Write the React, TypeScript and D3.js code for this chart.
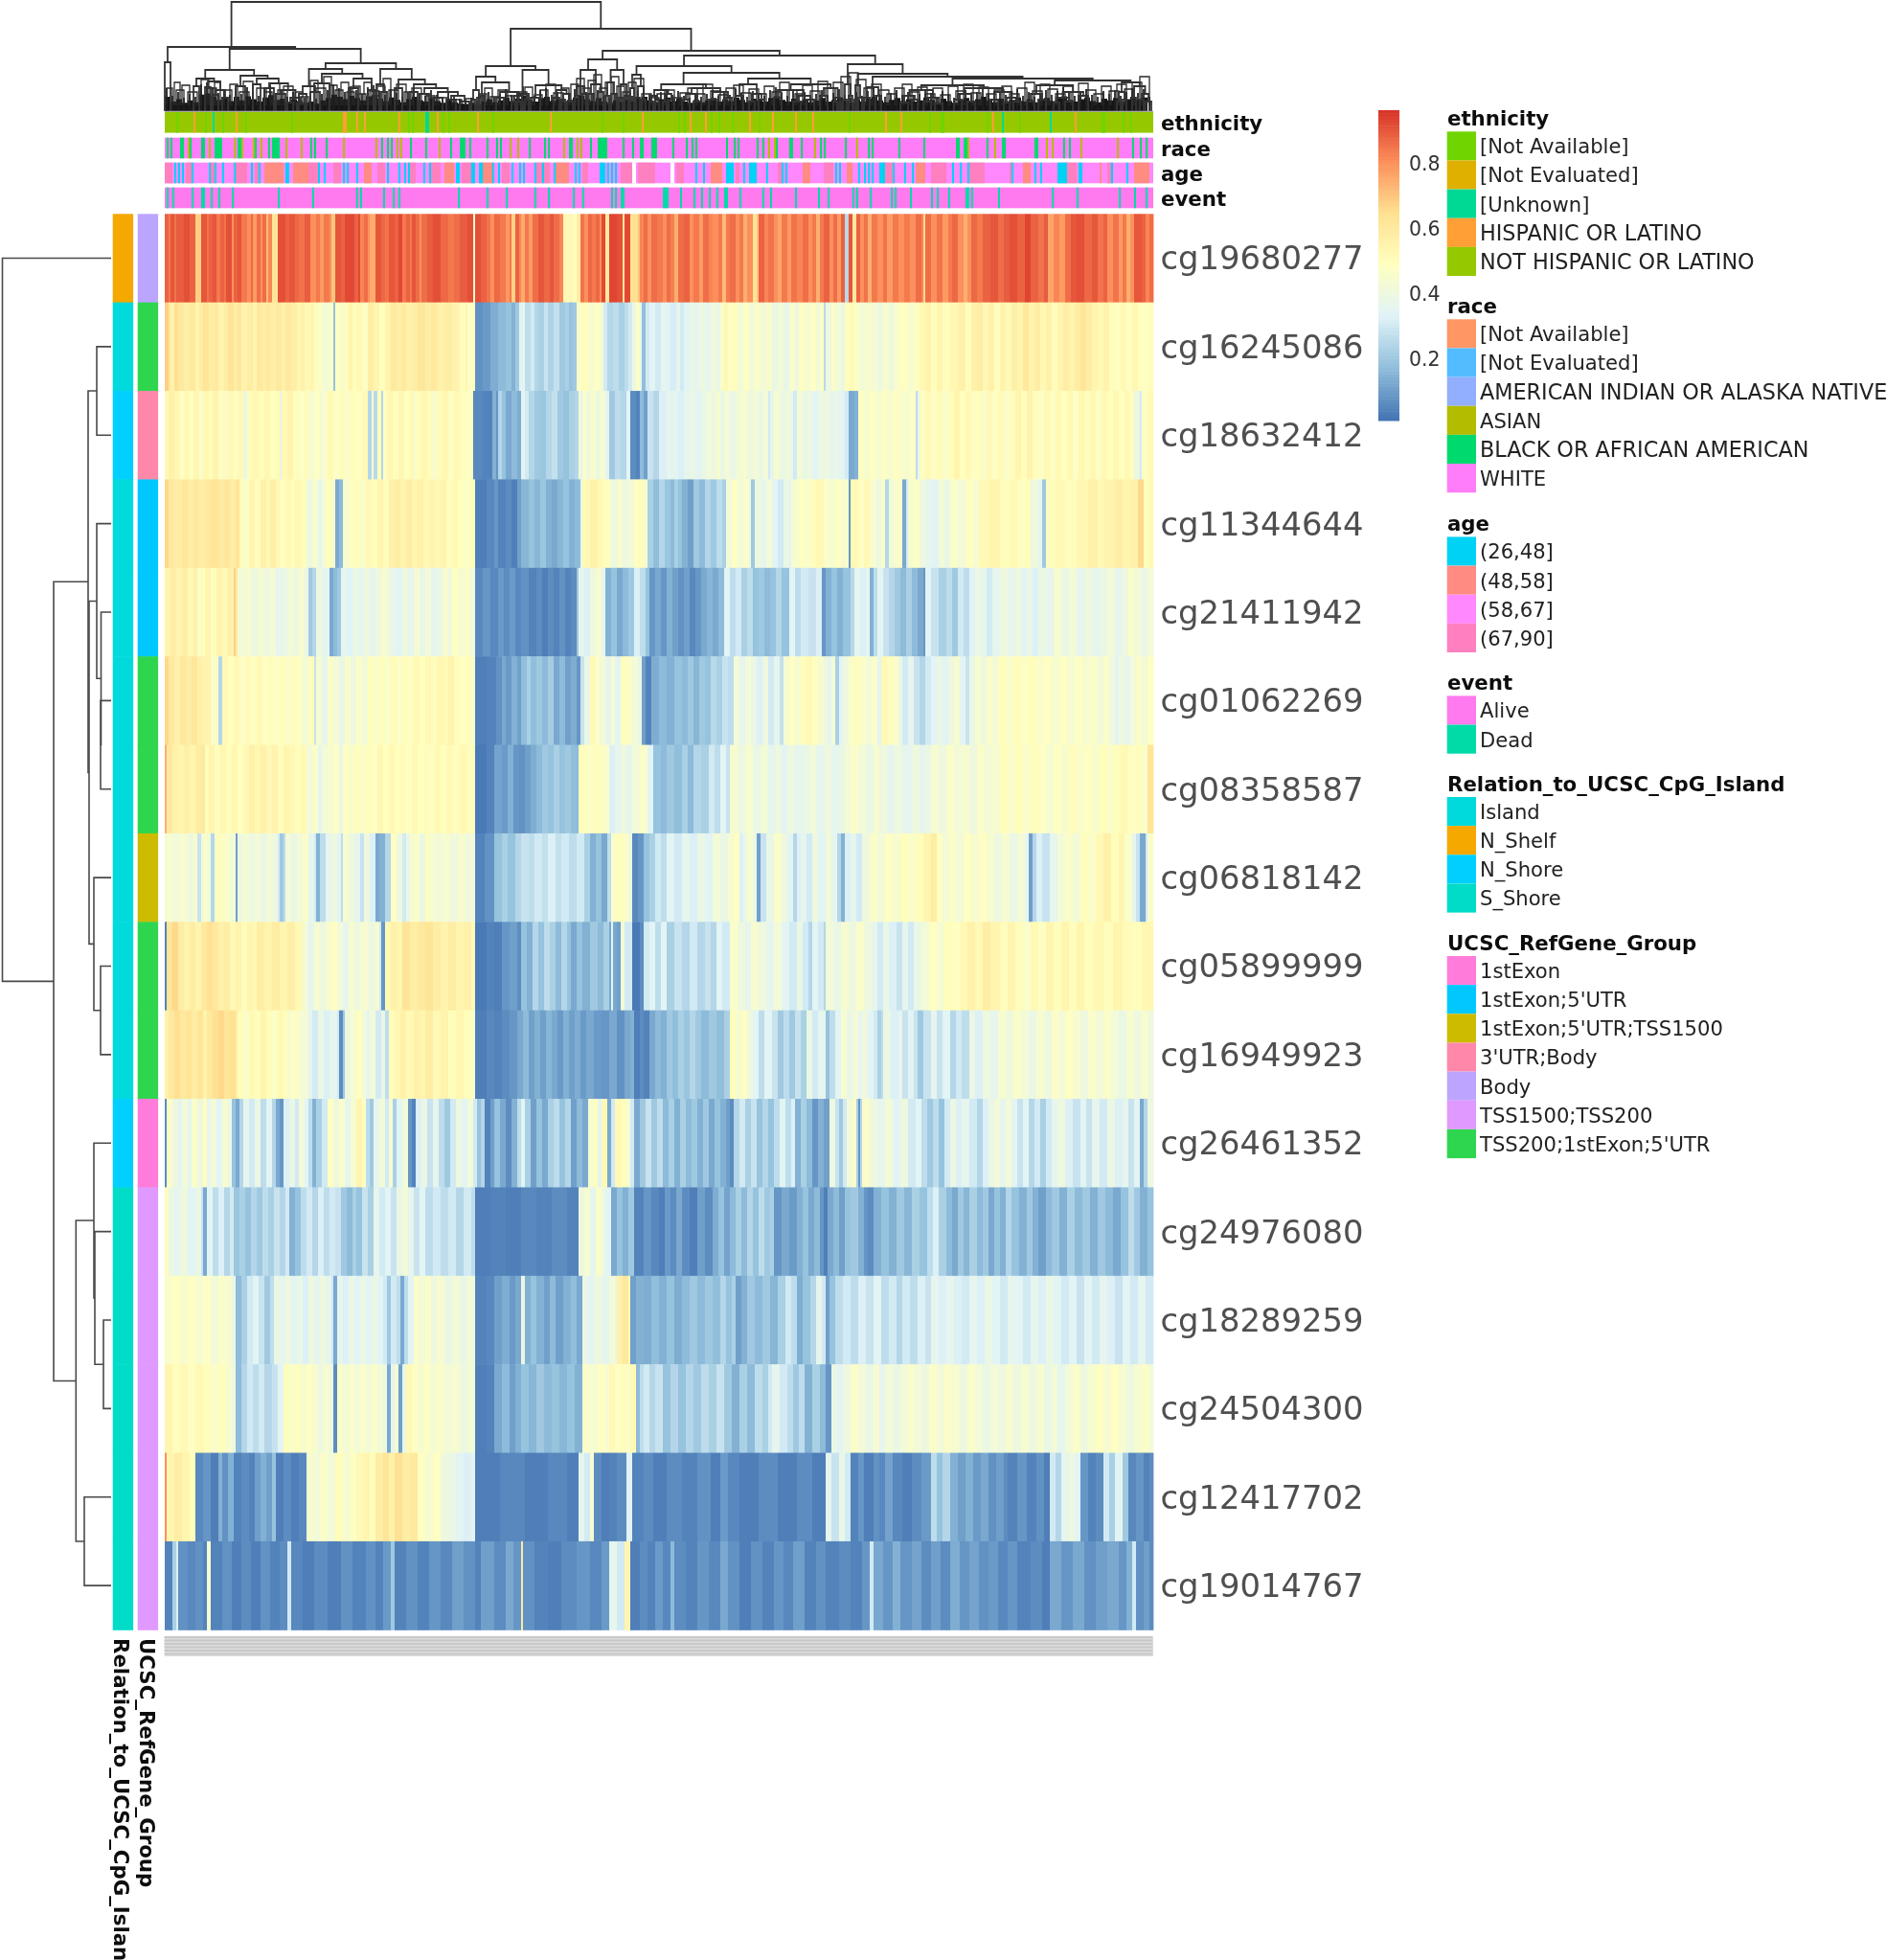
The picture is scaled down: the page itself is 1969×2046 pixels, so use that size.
import * as d3 from "d3";

// probe order is the clustered order on the heatmap
const probes = [
  "cg19680277", "cg16245086", "cg18632412", "cg11344644", "cg21411942", "cg01062269", "cg08358587", "cg06818142",
  "cg05899999", "cg16949923", "cg26461352", "cg24976080", "cg18289259", "cg24504300", "cg12417702", "cg19014767",
];

// beta values in percent, as [first sample rank of the run, value]
type Run = [number, number];
const cg19680277: Run[] = [[0,88],[2,84],[3,90],[5,85],[6,89],[10,91],[13,88],[16,68],[19,90],[22,85],[23,88],[25,90],[27,84],[29,88],[31,85],[32,91],[35,80],[36,88],[38,90],[40,84],[43,80],[45,87],[46,78],[48,86],[50,80],[51,86],[53,72],[54,82],[56,62],[59,91],[63,88],[65,90],[68,87],[70,85],[73,89],[76,80],[79,84],[81,78],[83,84],[86,80],[87,70],[89,90],[92,88],[94,92],[99,88],[101,92],[102,82],[104,86],[106,80],[107,75],[110,90],[113,87],[115,85],[117,90],[120,88],[122,92],[124,84],[126,88],[128,84],[129,90],[131,86],[133,80],[134,86],[137,89],[140,91],[144,87],[148,84],[151,86],[154,89],[158,91],[161,45],[162,91],[165,88],[168,85],[170,80],[172,87],[175,84],[178,78],[180,84],[181,68],[183,88],[185,82],[186,75],[188,84],[190,78],[192,86],[195,90],[198,87],[201,90],[203,86],[206,82],[208,52],[213,50],[215,58],[217,85],[219,80],[221,87],[223,84],[225,87],[227,80],[228,92],[230,60],[232,93],[236,91],[239,62],[240,92],[243,64],[247,70],[248,82],[250,86],[252,80],[254,86],[257,84],[260,80],[262,86],[264,83],[266,74],[268,86],[271,88],[274,80],[276,84],[279,78],[281,86],[284,82],[286,80],[289,84],[291,72],[293,84],[295,86],[298,80],[300,84],[302,74],[304,80],[307,62],[309,70],[310,88],[313,82],[315,85],[318,80],[320,76],[322,84],[325,78],[327,85],[330,82],[333,86],[336,80],[338,84],[340,74],[342,84],[344,88],[347,80],[349,86],[351,78],[353,88],[355,25],[357,90],[359,60],[361,88],[363,80],[365,85],[367,74],[369,84],[372,80],[375,85],[377,78],[380,84],[383,80],[386,84],[389,80],[392,86],[395,82],[396,66],[397,86],[400,80],[403,85],[406,78],[409,84],[411,87],[414,80],[417,74],[419,80],[421,87],[424,84],[427,88],[431,90],[435,86],[438,89],[441,91],[445,88],[449,93],[452,88],[456,85],[459,89],[461,76],[464,82],[467,78],[470,86],[473,90],[476,91],[480,87],[484,90],[487,85],[490,88],[492,80],[495,85],[498,78],[500,84],[502,74],[504,80],[506,90],[510,88],[512,82],[514,86]];
const cg16245086: Run[] = [[0,68],[2,60],[3,55],[5,64],[7,60],[10,57],[13,60],[16,54],[18,58],[20,62],[23,58],[26,60],[28,55],[31,58],[33,62],[36,58],[38,61],[40,55],[43,58],[46,54],[48,60],[51,57],[53,60],[55,57],[58,60],[61,56],[63,60],[66,57],[69,53],[71,56],[73,52],[76,54],[78,50],[80,46],[83,42],[86,46],[88,18],[89,48],[92,44],[94,50],[96,54],[98,50],[100,52],[103,47],[106,58],[109,54],[112,50],[115,54],[118,60],[121,57],[124,60],[126,56],[129,58],[132,61],[136,58],[139,60],[142,56],[146,58],[150,55],[154,50],[157,54],[158,47],[161,50],[162,7],[166,9],[170,13],[174,16],[178,18],[181,14],[183,20],[185,33],[187,38],[188,26],[191,30],[193,24],[195,22],[198,28],[200,23],[203,27],[206,20],[209,22],[211,18],[213,20],[215,47],[218,50],[221,44],[224,47],[227,43],[229,30],[231,24],[234,26],[237,22],[240,26],[242,30],[244,40],[246,46],[248,36],[249,17],[251,30],[253,34],[256,30],[259,36],[262,33],[264,31],[267,36],[269,30],[271,34],[274,38],[276,36],[279,40],[282,36],[285,41],[288,38],[290,46],[292,52],[294,48],[296,50],[299,42],[302,47],[305,42],[308,46],[311,42],[314,45],[317,38],[320,42],[323,37],[326,46],[329,40],[331,48],[334,44],[337,47],[340,42],[342,46],[344,25],[345,40],[348,46],[350,42],[353,38],[355,50],[358,52],[360,46],[363,42],[366,45],[369,42],[372,40],[375,45],[378,40],[381,46],[384,48],[388,44],[391,48],[394,52],[397,55],[400,50],[403,54],[406,50],[410,53],[414,56],[418,50],[421,56],[424,58],[427,53],[430,56],[433,50],[436,55],[439,52],[442,57],[445,54],[448,60],[451,55],[454,58],[457,52],[460,56],[463,50],[466,54],[469,58],[472,55],[475,58],[478,62],[481,58],[484,54],[487,52],[490,55],[493,50],[496,48],[499,52],[502,48],[505,53],[508,49],[511,47],[513,50]];
const cg18632412: Run[] = [[0,52],[2,56],[5,53],[8,48],[10,52],[13,49],[15,53],[18,46],[20,53],[23,50],[25,54],[28,47],[30,51],[32,44],[33,52],[36,48],[38,52],[41,38],[43,50],[46,53],[49,50],[52,53],[55,49],[58,51],[60,36],[61,52],[64,55],[67,50],[70,47],[73,51],[75,44],[78,47],[81,43],[83,46],[85,52],[88,47],[91,50],[94,46],[97,50],[100,48],[103,52],[106,24],[108,45],[109,25],[111,50],[113,24],[114,48],[116,53],[119,50],[122,53],[125,49],[128,52],[130,44],[131,50],[134,53],[137,50],[140,44],[142,51],[145,53],[148,48],[151,52],[154,50],[157,47],[160,50],[161,5],[166,4],[171,14],[173,8],[174,24],[176,18],[178,12],[181,16],[184,13],[186,35],[188,30],[190,24],[193,20],[196,19],[199,24],[202,27],[205,20],[208,18],[211,22],[214,24],[216,42],[217,36],[218,46],[220,40],[222,45],[225,38],[227,44],[230,34],[232,20],[235,26],[238,24],[241,34],[243,6],[246,4],[248,16],[250,10],[252,28],[255,24],[258,32],[262,36],[264,35],[268,32],[271,36],[274,38],[277,34],[280,38],[283,42],[285,40],[288,44],[290,38],[292,42],[295,38],[298,42],[301,44],[304,40],[307,42],[310,38],[312,42],[315,30],[316,36],[318,44],[321,38],[324,41],[327,36],[328,30],[330,42],[333,38],[336,40],[338,34],[341,38],[344,40],[347,36],[350,38],[352,34],[355,30],[357,12],[360,14],[362,48],[365,45],[368,48],[371,44],[374,47],[377,45],[380,48],[383,46],[386,44],[389,47],[392,26],[393,36],[394,48],[397,52],[400,48],[403,51],[406,46],[409,50],[412,54],[415,49],[418,52],[421,48],[424,50],[427,44],[429,52],[432,48],[435,51],[438,46],[441,50],[444,54],[447,50],[450,55],[453,50],[456,47],[459,52],[462,48],[465,52],[468,49],[471,52],[474,47],[477,53],[480,50],[483,52],[486,48],[489,52],[492,49],[495,53],[498,49],[501,52],[504,50],[506,38],[509,30],[510,48],[513,52]];
const cg11344644: Run[] = [[0,66],[2,60],[5,58],[9,61],[12,58],[15,60],[18,57],[21,60],[24,62],[28,59],[31,61],[34,58],[37,62],[39,50],[41,46],[44,54],[47,50],[50,56],[53,52],[55,57],[58,53],[60,48],[63,52],[66,49],[68,53],[71,50],[74,40],[77,44],[80,36],[82,42],[84,50],[87,45],[89,12],[91,16],[93,44],[96,48],[99,50],[102,46],[105,52],[108,50],[111,54],[114,51],[117,56],[120,58],[123,55],[126,58],[129,54],[132,56],[135,52],[138,55],[141,52],[144,54],[147,50],[150,52],[153,49],[156,47],[159,50],[162,3],[168,5],[172,8],[174,4],[178,6],[181,3],[184,10],[186,15],[190,18],[193,15],[196,19],[199,14],[202,12],[205,15],[208,18],[211,14],[214,16],[217,38],[218,52],[222,56],[226,52],[229,50],[232,46],[233,40],[236,44],[239,40],[242,42],[245,47],[247,50],[250,44],[252,22],[255,17],[258,24],[261,19],[264,16],[266,22],[268,18],[270,14],[273,10],[276,20],[279,16],[282,24],[285,20],[288,26],[291,22],[293,42],[296,48],[299,42],[302,46],[305,38],[306,20],[308,40],[311,36],[314,42],[317,34],[320,30],[323,38],[326,34],[327,44],[331,48],[334,46],[337,50],[340,52],[344,46],[347,44],[350,48],[353,44],[356,47],[357,8],[358,52],[362,48],[365,52],[368,45],[371,40],[374,46],[376,24],[378,42],[381,46],[385,12],[387,30],[388,44],[391,47],[394,40],[397,36],[400,34],[404,42],[407,38],[410,46],[414,42],[418,48],[422,44],[425,52],[430,54],[436,50],[441,52],[445,48],[449,50],[452,40],[456,36],[458,20],[460,50],[465,52],[470,50],[476,53],[482,56],[487,52],[490,55],[496,58],[500,54],[504,56],[508,66],[511,50],[514,52]];
const cg21411942: Run[] = [[0,54],[3,58],[6,54],[9,57],[12,52],[15,56],[17,46],[19,50],[21,54],[24,50],[27,55],[30,52],[33,56],[36,68],[37,60],[38,42],[42,44],[45,40],[49,43],[52,40],[55,42],[58,36],[61,38],[64,42],[67,40],[70,44],[73,38],[75,20],[77,24],[79,40],[82,36],[85,34],[86,12],[88,16],[90,20],[92,36],[95,33],[98,38],[101,36],[104,40],[107,36],[110,40],[113,44],[116,40],[118,36],[121,34],[124,40],[127,36],[130,43],[133,38],[136,42],[139,36],[142,38],[145,44],[148,40],[150,48],[153,44],[156,46],[159,42],[162,5],[166,8],[170,5],[174,9],[177,6],[180,9],[183,5],[186,7],[190,4],[194,6],[197,3],[200,6],[203,4],[206,7],[209,4],[212,6],[215,20],[216,36],[219,32],[222,40],[225,44],[228,36],[230,14],[233,18],[236,12],[239,16],[242,20],[245,32],[248,26],[251,18],[253,8],[256,12],[259,8],[262,14],[265,10],[268,7],[271,10],[274,5],[277,8],[280,12],[283,15],[286,12],[289,16],[292,34],[295,26],[298,30],[301,22],[304,26],[307,18],[310,20],[313,16],[316,18],[319,24],[322,18],[326,34],[329,26],[332,30],[336,28],[340,32],[343,8],[345,14],[348,18],[351,14],[354,18],[358,25],[360,36],[363,32],[366,36],[368,14],[370,26],[372,35],[375,28],[378,24],[381,20],[384,16],[387,22],[390,16],[393,12],[396,8],[397,34],[400,28],[404,22],[408,26],[411,20],[414,30],[417,26],[420,33],[423,38],[426,36],[429,30],[432,36],[436,40],[440,36],[444,40],[447,34],[450,38],[453,32],[456,38],[460,36],[464,44],[468,38],[472,42],[476,36],[480,40],[484,36],[488,38],[492,42],[496,36],[500,40],[503,46],[506,42],[510,38],[513,42]];
const cg01062269: Run[] = [[0,66],[2,60],[5,56],[8,60],[11,58],[14,61],[17,56],[20,55],[24,46],[27,50],[28,24],[30,52],[33,49],[36,52],[39,47],[42,51],[45,48],[48,52],[51,48],[54,50],[57,47],[60,50],[63,46],[66,50],[69,47],[72,42],[75,50],[78,28],[79,44],[82,36],[85,46],[88,42],[91,38],[94,45],[97,40],[100,46],[103,42],[106,50],[109,46],[112,50],[115,46],[118,51],[121,47],[124,50],[127,48],[130,52],[133,49],[136,52],[139,50],[142,53],[145,52],[148,55],[151,50],[154,48],[157,50],[160,45],[162,3],[168,4],[173,7],[176,12],[178,9],[181,14],[184,10],[186,17],[189,22],[191,17],[194,20],[197,16],[200,21],[203,12],[206,16],[209,10],[212,13],[215,8],[217,28],[219,38],[222,52],[225,46],[227,42],[230,36],[233,44],[235,34],[238,50],[241,46],[244,42],[247,38],[249,10],[251,4],[254,13],[258,16],[262,14],[266,18],[270,16],[273,20],[276,15],[279,20],[282,18],[285,25],[288,22],[291,28],[294,26],[297,42],[300,36],[303,42],[306,38],[309,32],[312,40],[315,30],[318,36],[321,27],[323,44],[326,48],[329,44],[332,50],[335,52],[338,48],[341,44],[344,40],[346,36],[348,42],[350,22],[352,34],[354,40],[357,46],[360,50],[363,46],[366,42],[369,46],[372,34],[374,52],[377,50],[380,46],[383,38],[385,30],[388,36],[391,28],[394,24],[397,30],[400,34],[403,38],[406,34],[409,40],[412,44],[415,34],[418,28],[420,38],[423,44],[426,40],[429,46],[432,42],[435,50],[439,46],[443,50],[447,47],[451,50],[455,46],[459,48],[463,44],[467,48],[471,44],[475,47],[479,44],[483,46],[487,42],[490,46],[493,40],[496,34],[498,40],[501,36],[504,42],[507,46],[510,42],[513,48]];
const cg08358587: Run[] = [[0,74],[1,60],[4,56],[7,54],[10,57],[13,54],[16,58],[19,60],[21,50],[23,54],[26,50],[29,53],[32,50],[35,53],[38,49],[41,52],[44,56],[47,53],[50,56],[53,52],[56,55],[59,50],[62,54],[65,52],[68,50],[71,52],[74,42],[77,46],[80,36],[82,42],[85,44],[88,47],[91,38],[93,48],[96,45],[99,50],[102,46],[105,50],[108,48],[111,53],[114,49],[117,52],[120,49],[123,51],[126,48],[129,52],[132,49],[135,50],[138,48],[141,52],[144,49],[147,52],[150,50],[154,52],[158,50],[162,2],[168,4],[172,11],[176,9],[179,14],[182,8],[185,7],[188,10],[191,13],[194,16],[197,20],[200,18],[203,22],[206,18],[209,20],[212,17],[215,16],[216,50],[220,47],[224,50],[228,46],[232,32],[235,36],[238,40],[241,36],[244,42],[248,46],[252,34],[255,18],[259,16],[262,20],[266,17],[270,22],[273,16],[276,24],[280,22],[284,30],[287,26],[290,34],[293,28],[295,44],[299,40],[303,44],[307,38],[311,42],[315,36],[319,40],[322,34],[325,40],[329,36],[333,38],[337,42],[340,36],[344,40],[348,36],[352,38],[355,42],[358,46],[362,42],[366,38],[370,44],[373,40],[377,36],[381,40],[385,36],[390,40],[394,36],[397,38],[400,44],[404,40],[408,46],[412,42],[416,44],[420,40],[424,46],[428,42],[432,44],[436,50],[440,46],[444,50],[448,46],[452,50],[456,47],[460,44],[464,48],[468,45],[472,50],[476,46],[480,48],[484,45],[488,50],[492,46],[495,50],[499,52],[503,48],[507,50],[510,46],[513,62]];
const cg06818142: Run[] = [[0,44],[4,42],[8,44],[12,40],[15,44],[17,28],[19,40],[20,46],[22,42],[24,24],[26,44],[27,50],[30,46],[34,42],[37,10],[38,40],[41,43],[44,39],[47,42],[50,38],[53,42],[56,40],[59,30],[60,20],[62,26],[63,42],[66,38],[69,42],[72,46],[75,36],[78,30],[79,14],[81,26],[84,36],[87,40],[90,34],[92,26],[93,44],[96,40],[99,36],[102,28],[104,40],[107,32],[110,12],[112,14],[115,24],[118,48],[121,40],[124,30],[126,38],[128,44],[130,46],[133,38],[136,50],[138,44],[141,42],[145,44],[149,41],[153,44],[157,41],[160,42],[162,4],[167,7],[172,18],[176,22],[179,18],[183,24],[186,28],[190,26],[193,30],[197,27],[200,32],[204,27],[207,30],[211,26],[215,30],[219,22],[222,14],[225,18],[228,12],[231,26],[233,46],[236,50],[239,46],[242,40],[244,5],[247,8],[250,18],[253,22],[256,30],[259,26],[262,34],[266,30],[270,36],[274,32],[278,38],[282,34],[286,42],[290,38],[294,44],[297,48],[300,32],[302,38],[304,44],[307,38],[309,10],[311,28],[314,38],[318,46],[322,40],[325,34],[328,24],[330,32],[332,36],[335,30],[338,40],[341,34],[345,42],[348,36],[351,24],[353,14],[355,32],[358,36],[361,30],[364,40],[368,46],[372,42],[376,48],[380,44],[384,50],[388,46],[392,50],[396,54],[400,58],[403,48],[406,42],[409,46],[413,42],[417,48],[421,44],[425,48],[429,44],[433,40],[437,44],[441,38],[445,42],[449,36],[451,10],[453,24],[455,32],[458,28],[462,36],[466,42],[470,46],[474,42],[478,50],[482,46],[486,52],[490,56],[494,50],[498,54],[501,46],[505,36],[507,28],[509,12],[512,30],[513,46]];
const cg05899999: Run[] = [[0,4],[1,62],[4,66],[7,58],[10,55],[13,58],[16,54],[19,60],[22,64],[25,60],[28,56],[31,58],[34,52],[37,55],[40,50],[43,54],[46,52],[48,58],[52,55],[56,58],[60,54],[64,57],[68,52],[72,42],[75,36],[78,44],[81,40],[84,44],[87,48],[90,42],[93,36],[96,44],[99,40],[102,44],[106,40],[110,44],[112,30],[113,8],[115,52],[118,56],[121,54],[124,62],[128,58],[132,60],[136,62],[140,58],[144,55],[148,58],[152,54],[156,56],[160,52],[162,2],[168,4],[172,3],[176,8],[180,10],[184,6],[186,18],[189,14],[192,24],[195,18],[198,26],[201,22],[204,16],[207,24],[210,18],[212,12],[215,18],[218,14],[222,20],[226,16],[229,22],[232,12],[233,34],[234,12],[236,10],[238,42],[240,30],[244,2],[248,6],[250,30],[253,34],[256,26],[259,34],[262,22],[266,28],[270,24],[274,30],[278,24],[282,28],[285,24],[288,34],[291,30],[295,46],[299,40],[303,36],[306,44],[310,40],[314,36],[318,42],[322,34],[326,30],[330,38],[333,30],[336,24],[338,34],[341,30],[344,24],[345,42],[349,38],[353,44],[357,40],[361,46],[365,40],[369,36],[372,30],[375,38],[378,32],[382,28],[385,36],[388,30],[391,38],[395,42],[399,48],[403,44],[407,50],[411,48],[415,52],[419,56],[423,52],[427,58],[431,54],[436,50],[440,54],[444,50],[448,46],[452,52],[456,48],[460,54],[464,50],[468,54],[472,50],[476,54],[480,50],[485,53],[490,50],[495,54],[500,51],[505,50],[510,53]];
const cg16949923: Run[] = [[0,56],[2,60],[5,64],[8,60],[11,62],[14,58],[17,62],[20,54],[22,60],[25,64],[28,66],[31,62],[34,64],[37,58],[38,50],[41,46],[44,52],[47,50],[50,54],[53,50],[56,47],[59,52],[62,50],[64,44],[66,48],[69,44],[72,42],[75,36],[77,30],[80,38],[83,32],[86,36],[90,30],[91,6],[93,20],[94,40],[97,44],[100,48],[103,42],[105,36],[107,42],[110,30],[113,38],[115,26],[117,50],[120,53],[123,56],[126,52],[130,56],[133,54],[136,58],[140,52],[144,55],[148,50],[152,53],[156,50],[160,46],[162,3],[168,5],[172,4],[176,6],[180,8],[184,12],[187,16],[190,10],[193,14],[196,10],[199,15],[202,12],[205,9],[208,14],[211,10],[214,13],[217,9],[220,12],[224,9],[228,8],[232,12],[236,7],[240,12],[243,14],[245,3],[248,6],[250,4],[253,12],[256,16],[259,14],[262,20],[265,17],[268,22],[271,19],[274,24],[277,20],[280,16],[284,20],[288,17],[292,22],[295,50],[298,44],[301,48],[304,40],[307,34],[310,26],[313,34],[317,28],[320,20],[323,26],[326,20],[329,28],[332,22],[335,38],[338,30],[341,36],[345,18],[347,26],[350,34],[353,44],[356,38],[359,42],[362,36],[364,40],[367,34],[370,30],[372,22],[374,26],[375,38],[379,32],[383,36],[385,28],[388,34],[391,28],[393,20],[396,28],[400,36],[403,28],[406,34],[410,24],[413,30],[416,26],[420,38],[423,32],[427,40],[431,36],[435,44],[439,40],[443,46],[447,42],[451,38],[455,44],[459,40],[463,46],[467,42],[470,48],[474,44],[478,40],[482,46],[486,42],[490,46],[494,42],[498,38],[502,44],[506,40],[510,45],[513,40]];
const cg26461352: Run[] = [[0,6],[1,46],[4,40],[7,34],[9,42],[12,36],[14,46],[17,40],[20,48],[22,36],[24,42],[27,34],[30,44],[33,38],[35,18],[37,12],[39,24],[41,36],[44,30],[47,38],[50,26],[53,34],[56,24],[58,12],[60,8],[62,32],[65,38],[68,30],[70,42],[73,34],[75,26],[77,14],[79,22],[82,30],[85,48],[88,40],[91,46],[94,36],[97,44],[100,54],[103,48],[105,26],[107,20],[109,36],[112,42],[115,30],[117,44],[119,22],[121,34],[124,42],[127,8],[129,4],[131,32],[134,38],[137,28],[140,36],[143,26],[146,20],[149,30],[152,40],[155,34],[158,42],[161,30],[163,18],[165,24],[167,4],[170,10],[172,18],[175,12],[178,6],[181,14],[184,26],[186,34],[188,22],[191,10],[194,18],[197,12],[200,22],[203,26],[206,18],[209,24],[212,10],[215,16],[218,12],[221,44],[224,50],[226,34],[228,52],[231,12],[233,30],[235,52],[238,50],[241,44],[243,30],[245,12],[248,20],[251,28],[254,20],[257,26],[260,16],[263,22],[266,14],[269,22],[272,16],[275,20],[278,14],[281,20],[284,12],[287,18],[290,14],[293,10],[295,6],[297,24],[300,30],[303,22],[306,28],[309,18],[312,24],[315,18],[318,26],[321,34],[324,26],[327,32],[329,14],[332,22],[335,16],[338,8],[341,14],[344,10],[347,40],[350,28],[352,20],[354,30],[356,42],[359,46],[361,22],[362,8],[363,24],[364,46],[368,40],[372,36],[376,42],[380,34],[384,40],[388,30],[392,34],[395,26],[398,20],[401,26],[404,18],[407,30],[410,38],[413,32],[416,36],[420,30],[424,24],[427,32],[430,38],[433,42],[436,36],[439,42],[442,34],[445,28],[448,34],[451,24],[454,30],[457,22],[460,30],[463,36],[466,40],[470,32],[474,28],[478,34],[481,28],[484,36],[488,30],[492,38],[496,32],[500,36],[503,28],[506,34],[509,12],[511,24],[513,40]];
const cg24976080: Run[] = [[0,50],[2,38],[5,36],[8,40],[12,34],[16,38],[19,28],[20,12],[22,34],[25,26],[28,32],[31,24],[34,30],[36,19],[39,22],[42,18],[45,24],[48,20],[51,26],[54,22],[57,28],[60,24],[63,30],[65,14],[68,18],[71,26],[74,30],[77,24],[80,32],[83,26],[86,30],[89,28],[92,20],[95,16],[98,22],[100,18],[103,28],[106,22],[109,36],[112,30],[115,34],[118,28],[121,38],[124,42],[127,36],[130,28],[133,34],[136,26],[140,30],[144,26],[148,30],[152,24],[156,30],[160,26],[162,3],[170,4],[178,3],[186,5],[194,4],[202,6],[210,4],[216,40],[219,44],[222,36],[225,46],[228,40],[230,34],[233,12],[236,18],[239,14],[242,20],[245,4],[250,8],[254,5],[258,3],[261,9],[264,6],[267,12],[270,6],[274,3],[278,10],[282,6],[286,13],[289,18],[292,11],[295,16],[298,22],[301,16],[304,24],[307,18],[310,26],[313,20],[316,22],[318,8],[322,12],[326,9],[330,14],[333,18],[336,12],[339,16],[342,8],[344,3],[346,12],[349,16],[352,10],[355,18],[358,20],[362,14],[365,8],[367,6],[370,14],[374,18],[378,14],[382,20],[386,15],[390,22],[394,18],[398,26],[401,32],[404,22],[408,16],[411,12],[414,20],[417,15],[420,22],[424,16],[427,20],[430,12],[433,18],[436,14],[439,24],[442,18],[446,14],[450,20],[453,14],[456,10],[460,16],[463,20],[467,14],[471,22],[475,16],[479,20],[483,14],[487,20],[491,16],[495,12],[499,18],[503,26],[506,20],[509,14],[513,18]];
const cg18289259: Run[] = [[0,46],[4,48],[8,45],[12,48],[16,44],[20,47],[24,42],[28,46],[32,44],[35,38],[37,16],[40,22],[43,30],[46,34],[49,28],[52,20],[55,26],[57,38],[60,36],[63,40],[66,34],[69,38],[72,32],[75,40],[78,36],[81,40],[84,36],[87,30],[88,12],[90,36],[93,32],[96,38],[99,34],[102,38],[105,34],[108,38],[111,34],[114,30],[116,20],[118,30],[121,26],[123,12],[125,26],[127,34],[130,46],[133,42],[136,46],[139,40],[142,44],[146,38],[150,42],[154,38],[158,42],[162,4],[168,5],[172,10],[176,13],[180,9],[183,12],[186,38],[188,14],[191,18],[194,14],[198,10],[201,16],[204,10],[208,14],[212,17],[215,12],[218,38],[221,34],[224,40],[228,36],[232,42],[235,38],[236,56],[239,60],[242,52],[243,10],[246,14],[250,13],[254,17],[258,14],[262,18],[266,13],[270,16],[274,20],[278,16],[282,20],[286,17],[290,24],[293,18],[296,22],[298,10],[301,14],[304,20],[308,16],[312,20],[316,15],[320,22],[324,30],[327,26],[330,13],[333,18],[337,24],[340,36],[343,30],[345,10],[347,18],[350,26],[354,30],[358,26],[362,32],[366,28],[370,34],[374,26],[378,30],[382,24],[385,30],[389,26],[393,32],[397,28],[400,36],[404,32],[408,36],[412,32],[416,30],[420,36],[424,32],[428,38],[432,34],[436,30],[440,36],[444,34],[448,30],[452,36],[456,32],[460,38],[464,34],[468,30],[472,34],[476,28],[480,34],[484,30],[488,36],[492,32],[496,28],[500,34],[504,30],[508,36],[512,30]];
const cg24504300: Run[] = [[0,54],[4,50],[8,52],[12,48],[16,52],[20,50],[24,46],[28,50],[32,44],[35,40],[37,16],[40,24],[43,30],[46,26],[49,30],[52,24],[56,28],[59,34],[62,50],[65,46],[68,50],[71,44],[74,48],[77,44],[80,40],[83,44],[86,40],[88,6],[90,46],[93,42],[96,46],[99,42],[102,46],[105,42],[108,46],[111,42],[114,40],[116,12],[118,36],[120,44],[122,10],[124,38],[126,52],[129,48],[132,44],[135,48],[138,44],[142,46],[146,42],[150,44],[154,40],[158,42],[162,3],[168,4],[172,12],[176,16],[180,10],[183,14],[186,18],[190,15],[194,20],[198,16],[202,18],[206,15],[210,18],[214,14],[218,46],[222,44],[226,48],[230,44],[232,52],[235,48],[238,50],[241,46],[243,52],[246,16],[248,26],[250,30],[253,24],[256,28],[260,18],[264,24],[268,18],[272,24],[276,20],[280,26],[284,22],[288,28],[292,20],[296,14],[300,22],[304,16],[308,26],[312,22],[315,30],[317,36],[321,30],[325,26],[328,20],[331,26],[334,14],[338,22],[342,16],[345,8],[348,38],[351,34],[354,40],[358,46],[362,42],[366,38],[370,44],[373,36],[376,42],[380,38],[384,42],[388,46],[391,42],[395,40],[399,46],[403,42],[407,46],[411,44],[415,40],[419,46],[423,42],[427,38],[431,42],[435,40],[439,44],[443,40],[447,44],[451,40],[455,44],[459,38],[463,42],[466,36],[470,42],[474,46],[478,40],[482,44],[486,48],[490,44],[494,48],[498,44],[502,40],[506,44],[510,46],[514,42]];
const cg12417702: Run[] = [[0,80],[1,54],[5,58],[9,54],[13,50],[16,5],[20,8],[24,3],[28,14],[30,7],[33,14],[36,4],[40,6],[44,4],[47,10],[50,14],[53,10],[56,18],[58,3],[62,6],[66,3],[70,5],[74,44],[78,42],[81,46],[85,42],[89,50],[93,44],[97,48],[100,52],[104,54],[107,50],[110,58],[114,62],[117,56],[120,64],[124,58],[128,60],[132,48],[136,44],[140,48],[144,40],[148,38],[152,34],[156,32],[160,34],[162,3],[175,5],[188,3],[200,5],[210,3],[216,36],[219,30],[222,44],[224,6],[228,3],[232,4],[236,6],[241,34],[244,4],[250,6],[255,3],[262,6],[270,4],[278,7],[285,3],[290,9],[294,5],[300,3],[310,6],[320,3],[330,6],[338,3],[345,36],[348,28],[352,38],[355,30],[358,4],[362,8],[365,3],[370,7],[373,5],[376,11],[380,5],[385,3],[390,6],[395,9],[400,26],[403,18],[406,24],[410,14],[414,10],[418,14],[422,9],[426,12],[430,7],[434,10],[438,6],[440,4],[445,8],[450,4],[455,7],[459,3],[462,30],[465,24],[468,36],[472,40],[475,34],[478,8],[482,4],[486,6],[490,30],[493,22],[496,34],[500,20],[503,5],[507,8],[511,4],[514,6]];
const cg19014767: Run[] = [[0,4],[4,22],[6,32],[7,7],[12,5],[16,7],[20,4],[22,44],[24,4],[30,7],[35,3],[40,6],[45,3],[50,7],[55,4],[60,6],[64,30],[66,5],[72,3],[78,6],[85,3],[92,7],[98,4],[105,7],[110,4],[114,9],[118,20],[120,4],[126,7],[132,4],[138,8],[144,5],[150,10],[156,7],[162,4],[165,10],[172,6],[178,12],[182,8],[186,60],[187,7],[193,4],[200,3],[207,6],[215,8],[222,5],[228,9],[232,36],[236,30],[240,54],[243,3],[248,6],[252,4],[256,9],[260,5],[264,16],[266,6],[272,4],[278,8],[284,5],[290,12],[294,7],[300,3],[306,7],[312,4],[318,8],[323,5],[328,10],[334,4],[340,7],[345,4],[352,6],[358,4],[364,8],[368,30],[370,12],[375,8],[380,14],[384,8],[390,11],[395,6],[400,10],[405,6],[410,13],[415,8],[420,11],[425,7],[430,9],[435,5],[440,8],[445,4],[452,6],[458,3],[462,12],[468,8],[474,12],[480,7],[486,10],[492,12],[498,8],[502,14],[505,30],[507,7],[511,10],[514,6]];
const probeRuns = [cg19680277, cg16245086, cg18632412, cg11344644, cg21411942, cg01062269, cg08358587, cg06818142, cg05899999, cg16949923, cg26461352, cg24976080, cg18289259, cg24504300, cg12417702, cg19014767];

// sample annotation: [sample rank, category], everything else takes the majority level
const ethnicityLevels = ["[Not Available]", "[Not Evaluated]", "[Unknown]", "HISPANIC OR LATINO", "NOT HISPANIC OR LATINO"];
const ethnicityColors = ["#6fd400", "#e0b000", "#00d994", "#ff9f35", "#96c800"];
const ethnicityMarks: Run[] = [[6,0],[15,3],[21,0],[25,2],[30,0],[37,3],[42,0],[66,0],[93,3],[94,3],[100,3],[104,3],[122,3],[127,0],[129,0],[136,2],[137,2],[142,3],[145,0],[148,0],[163,3],[171,0],[201,3],[228,0],[239,0],[249,3],[268,0],[271,0],[274,3],[282,3],[285,0],[289,0],[296,0],[305,3],[310,0],[317,3],[329,3],[338,3],[357,0],[376,3],[384,3],[399,0],[405,0],[406,0],[429,0],[432,3],[437,2],[446,0],[462,2],[475,3],[489,0],[490,0],[500,0],[504,0]];

const raceLevels = ["[Not Available]", "[Not Evaluated]", "AMERICAN INDIAN OR ALASKA NATIVE", "ASIAN", "BLACK OR AFRICAN AMERICAN", "WHITE"];
const raceColors = ["#ff9664", "#52bcff", "#92aeff", "#b4bc00", "#00d96e", "#ff7df8"];
const raceMarks: [number, number, number][] = [[1,1,4],[3,1,4],[8,2,4],[12,1,3],[13,1,4],[19,2,4],[23,1,3],[26,4,4],[36,1,3],[38,1,4],[39,1,4],[40,1,3],[46,1,3],[47,1,4],[50,1,3],[54,1,4],[56,4,4],[63,1,3],[71,1,3],[76,1,4],[78,1,4],[84,1,4],[93,1,3],[110,1,3],[113,1,4],[116,1,4],[118,1,4],[121,1,3],[123,1,3],[128,1,4],[136,1,4],[143,1,3],[149,1,4],[154,3,4],[159,1,4],[168,1,4],[173,1,4],[175,1,4],[180,1,3],[184,1,3],[190,1,4],[198,1,4],[200,1,4],[208,1,3],[211,2,4],[215,1,3],[217,1,3],[222,1,4],[226,5,4],[239,1,4],[244,1,4],[248,2,4],[254,3,4],[265,1,4],[272,1,4],[275,1,4],[277,1,4],[293,1,4],[297,1,4],[299,1,4],[309,1,4],[312,1,4],[315,1,3],[318,1,3],[319,1,4],[326,2,4],[332,1,4],[339,1,3],[342,1,4],[344,1,4],[355,1,4],[361,1,3],[367,1,4],[369,1,4],[383,1,4],[396,1,4],[413,2,4],[417,3,4],[419,1,3],[429,1,4],[433,1,3],[437,2,4],[454,1,4],[455,1,4],[460,1,3],[463,1,3],[469,1,4],[472,1,4],[478,1,3],[497,1,3],[505,1,4],[509,1,4],[512,1,4]];

const ageLevels = ["(26,48]", "(48,58]", "(58,67]", "(67,90]"];
const ageColors = ["#00d2f5", "#ff8c82", "#ff88ff", "#ff80c0"];
// [first rank, number of samples]
const ageYoung: Run[] = [[5,1],[7,1],[9,1],[14,1],[23,1],[26,1],[30,1],[36,1],[45,1],[49,1],[63,2],[80,1],[83,1],[93,1],[95,1],[100,1],[116,1],[122,1],[125,1],[127,1],[135,1],[138,1],[152,1],[153,1],[160,2],[164,2],[171,1],[174,1],[181,1],[185,1],[187,1],[193,1],[197,1],[203,1],[214,1],[216,1],[227,3],[231,1],[233,1],[235,1],[277,1],[281,1],[293,4],[302,1],[305,4],[314,1],[322,1],[324,1],[350,1],[352,1],[362,1],[365,1],[367,1],[369,1],[373,3],[380,1],[386,1],[390,1],[411,1],[415,1],[419,1],[442,1],[454,1],[457,1],[466,5],[477,2],[494,1],[502,1]];
const ageMiddle: Run[] = [[52,10],[67,8],[104,4],[146,5],[166,5],[204,7],[285,6],[333,4],[356,3],[392,5],[448,4],[488,1],[506,8]];
const ageOld: Run[] = [[0,4],[11,3],[24,2],[37,6],[47,2],[75,5],[88,4],[111,4],[128,3],[139,5],[155,5],[176,4],[194,3],[198,3],[218,3],[238,6],[247,9],[267,4],[298,2],[320,2],[344,5],[375,5],[400,8],[420,8],[441,1],[470,6],[492,2]];
const ageMissing: Run[] = [[244,2],[264,2]];

const eventLevels = ["Alive", "Dead"];
const eventColors = ["#ff7aee", "#00dba8"];
const eventDead: Run[] = [[1,1],[4,1],[14,1],[19,2],[24,1],[28,1],[35,1],[59,1],[77,1],[100,1],[102,1],[114,1],[119,1],[122,1],[153,1],[168,1],[178,1],[193,1],[200,1],[213,1],[218,1],[233,1],[235,1],[238,2],[260,3],[269,1],[276,1],[280,1],[284,1],[288,1],[292,2],[300,1],[312,1],[316,1],[329,1],[341,1],[346,1],[359,1],[361,1],[368,1],[379,1],[381,1],[389,1],[400,1],[403,1],[409,1],[418,2],[421,1],[435,1],[463,1],[476,1],[498,1],[506,1],[512,1]];

const islandLevels = ["Island", "N_Shelf", "N_Shore", "S_Shore"];
const islandColors = ["#00dadc", "#f5a800", "#00cfff", "#00dcc8"];
const probeIsland = [1, 0, 2, 0, 0, 0, 0, 0, 0, 0, 2, 3, 3, 3, 3, 3];

const groupLevels = ["1stExon", "1stExon;5'UTR", "1stExon;5'UTR;TSS1500", "3'UTR;Body", "Body", "TSS1500;TSS200", "TSS200;1stExon;5'UTR"];
const groupColors = ["#ff7bdb", "#00c8ff", "#cdbb00", "#ff88aa", "#bca5ff", "#e099ff", "#2dd64f"];
const probeGroup = [4, 6, 3, 1, 1, 6, 6, 2, 6, 6, 0, 5, 5, 5, 5, 5];

const colorTicks = [0.2, 0.4, 0.6, 0.8];

// dendrograms as nested [merge height, left, right]; a plain number is a leaf
type Tree = number | [number, Tree, Tree];
const sampleTree: Tree = [114,
  [67,
    [51, 0, 3],
    [65,
      [43,
        [34, [26, 15, 18], [31, [25, 21, 24], [22, [17, 25, 28], [14, 30, 33]]]],
        [37, [26, 37, 42], [34, [28, 46, 50], [29, [24, 52, 57], [22, [18, 58, 63], [14, [9, 64, 67], [8, 69, 73]]]]]]],
      [50,
        [44,
          [26, [18, 70, 74], [20, 76, 81]],
          [39, [29, 78, 86], [34, [24, 96, 101], [22, 106, 110]]]],
        [44,
          [28, [16, 109, 112], [20, 113, 116]],
          [33, [24, 120, 124], [28, [20, 128, 132], [24, [18, 133, 138], [20, [14, 140, 145], [16, [12, 147, 152], [10, 154, 159]]]]]]]]]],
  [86,
    [47,
      [36,
        [22, [12, 160, 162], [14, 163, 165]],
        [30, [16, 164, 167], [20, [14, 173, 177], [16, [10, 181, 184], [9, 186, 187]]]]],
      [43,
        [18, [10, 183, 186], [12, 188, 190]],
        [27, [14, 191, 196], [22, [14, 203, 206], [18, [12, 207, 209], [10, 210, 213]]]]]],
    [63,
      [54,
        [43, [26, [16, 214, 216], [18, 218, 220]], [28, [18, 221, 224], [20, 226, 229]]],
        [43, [30, [16, 230, 232], [18, 233, 236]], [28, [14, 237, 239], [16, 240, 242]]]],
      [58,
        [47,
          [38, [24, 243, 245], [26, [14, 246, 248], [12, 249, 251]]],
          [40,
            [28,
              [22, [16, [10, 253, 255], [12, 256, 258]], [18, [10, 260, 262], [12, 263, 266]]],
              [24, [18, [12, 270, 274], [10, 276, 280]], [20, [12, 284, 288], [14, 292, 296]]]],
            [34,
              [28, [16, 298, 302], [18, [10, 305, 308], [12, 310, 313]]],
              [28,
                [22, [14, 318, 322], [16, [10, 328, 332], [12, 335, 339]]],
                [24, [16, 342, 346], [14, [10, 349, 351], [9, 352, 353]]]]]]],
        [49,
          [28, [12, 354, 356], [16, 357, 359]],
          [39,
            [27, [12, 360, 361], [14, 362, 364]],
            [36,
              [25, [14, 365, 368], [16, 371, 374]],
              [34,
                [27,
                  [22, [16, [9, 384, 388], [12, 390, 393]], [14, [10, 396, 400], [8, 402, 406]]],
                  [24, [18, [12, 412, 416], [10, 419, 423]], [20, [12, 431, 435], [14, [9, 438, 441], [10, 443, 447]]]]],
                [32,
                  [27, [18, [10, 450, 454], [12, 456, 460]], [20, [14, [9, 464, 467], [10, 470, 474]], [16, 477, 482]]],
                  [30, [20, [10, 497, 499], [12, 500, 502]], [26, [14, 505, 507], [18, [12, 509, 511], [10, 512, 515]]]]]]]]]]]]];

const probeTree: Tree = [113.5,
  0,
  [60,
    [24,
      [15, 1, 2],
      [23,
        [15, 3, [10.5, 4, [11, 5, 6]]],
        [18, 7, [11, 8, 9]]]],
    [36.7,
      [18, 10, [17, 11, [8, 12, 13]]],
      [28, 14, 15]]]];

// the packed low merges: one height for every third sample
const lowMerges = [24,16,20,14,18,15,28,30,25,19,22,17,24,18,25,20,16,23,27,19,21,15,20,17,14,16,13,18,22,28,24,20,26,22,18,25,27,21,17,23,19,15,20,24,18,16,22,17,14,19,15,13,12,14,11,16,20,15,18,23,17,21,26,19,16,22,24,17,20,15,19,23,26,20,17,22,16,14,18,15,19,16,21,24,18,15,20,23,17,21,16,14,19,15,18,22,16,20,17,23,19,15,21,18,16,22,25,19,16,21,17,20,15,18,22,16,19,23,17,14,20,16,21,24,18,15,19,22,17,20,16,18,23,19,15,21,17,14,19,22,16,20,24,18,15,21,17,19,23,16,20,15,18,22,17,21,25,19,16,20,23,17,15,21,18,22,16,20,24,19,23,15];
// extra small merges over the packed part: [left rank, right rank, height]
const lowArcs: [number, number, number][] = [[1,4,24],[5,8,30],[6,10,22],[9,13,27],[12,17,20],[19,23,33],[22,27,24],[26,29,30],[31,35,22],[34,38,28],[39,44,20],[41,46,31],[48,53,24],[52,56,20],[55,60,29],[59,64,22],[62,67,26],[68,72,20],[71,75,15],[76,80,32],[79,84,24],[83,87,36],[86,90,27],[89,93,22],[92,96,30],[95,99,20],[98,102,26],[101,105,18],[104,108,30],[107,112,21],[111,115,26],[114,118,34],[117,122,22],[121,126,28],[125,130,20],[129,134,24],[133,137,18],[136,141,16],[143,148,14],[150,155,12],[157,161,13],[164,168,18],[167,171,24],[170,175,15],[174,179,22],[178,182,16],[185,189,20],[188,192,25],[193,197,17],[196,200,22],[199,204,28],[203,208,19],[207,211,24],[212,216,28],[215,219,34],[218,222,24],[221,225,32],[224,228,38],[227,231,24],[230,234,30],[233,237,36],[236,240,26],[239,243,20],[242,246,30],[245,250,34],[249,254,18],[253,258,14],[257,262,18],[261,266,22],[265,270,14],[269,274,19],[273,278,24],[277,282,18],[281,286,28],[285,290,21],[289,294,17],[293,298,24],[297,302,27],[301,306,19],[305,310,23],[309,314,18],[313,318,26],[317,322,20],[321,326,30],[325,330,22],[329,334,18],[333,338,27],[337,342,21],[341,346,31],[345,350,24],[349,354,30],[353,358,36],[357,362,40],[361,366,33],[365,370,24],[369,374,28],[373,378,22],[377,382,18],[381,386,24],[385,390,28],[389,394,20],[393,398,25],[397,402,18],[401,406,24],[405,410,17],[409,414,26],[413,418,21],[417,422,28],[421,426,19],[425,430,25],[429,434,18],[433,438,22],[437,442,26],[441,446,18],[445,450,24],[449,454,30],[453,458,21],[457,462,28],[461,466,23],[465,470,18],[469,474,26],[473,478,20],[477,482,29],[481,486,22],[485,490,18],[489,494,26],[493,498,21],[497,502,28],[501,506,23],[505,510,30],[509,514,36]];

const W = 1969;
const H = 2046;
const sampleCount = 516;

// scales
const sampleX = d3.scaleLinear().domain([0, sampleCount]).range([172, 1204]);
const probeY = d3.scaleBand<string>().domain(probes).range([223.3, 1701.3]);
const heat = d3
  .scaleLinear<string>()
  .domain(d3.range(7).map((i) => 0.01 + (i * 0.955) / 6))
  .range(["#4575b4", "#91bfdb", "#e0f3f8", "#ffffbf", "#fee090", "#fc8d59", "#d73027"]);
const barY = d3.scaleLinear().domain([0.01, 0.965]).range([439, 115]);
const sampleTreeY = d3.scaleLinear().domain([0, 114]).range([116, 2]);
const probeTreeX = d3.scaleLinear().domain([0, 113.5]).range([116, 2.5]);

const sans = "DejaVu Sans";

function treePaths(tree: Tree, place: (leaf: number) => number) {
  const root = d3.hierarchy<Tree>(tree, (d) => (typeof d === "number" ? null : [d[1], d[2]]));
  const pos = new Map<unknown, { at: number; h: number }>();
  const merges: { a: { at: number; h: number }; b: { at: number; h: number }; h: number }[] = [];
  root.eachAfter((n) => {
    if (typeof n.data === "number") {
      pos.set(n, { at: place(n.data), h: 0 });
    } else {
      const [l, r] = n.children!;
      const a = pos.get(l)!;
      const b = pos.get(r)!;
      pos.set(n, { at: (a.at + b.at) / 2, h: n.data[0] });
      merges.push({ a, b, h: n.data[0] });
    }
  });
  return merges;
}

function Track({ y, h, marks }: { y: number; h: number; marks: { start: number; n: number; fill: string }[] }) {
  return (
    <g>
      {marks.map((m, i) => (
        <rect key={i} x={sampleX(m.start)} y={y} width={sampleX(m.start + m.n) - sampleX(m.start)} height={h} fill={m.fill} />
      ))}
    </g>
  );
}

function Legend({ title, y, levels, colors }: { title: string; y: number; levels: string[]; colors: string[] }) {
  const rowH = 30.15;
  return (
    <g>
      <text x={1511} y={y - 6} fontFamily={sans} fontWeight="bold" fontSize={21.3} fill="#111">
        {title}
      </text>
      {levels.map((l, i) => (
        <g key={l}>
          <rect x={1510.7} y={y + i * rowH} width={30.3} height={rowH} fill={colors[i]} />
          {/* the long capital labels run a little wider in the reference */}
          <text x={1545} y={y + i * rowH + 23} fontFamily={sans} fontSize={l.length > 15 && l === l.toUpperCase() ? 22.3 : 21.1} fill="#222">
            {l}
          </text>
        </g>
      ))}
    </g>
  );
}

export default function App() {
  const bw = probeY.bandwidth();
  const topMerges = treePaths(sampleTree, (r) => sampleX(r));
  const sideMerges = treePaths(probeTree, (i) => probeY(probes[i])! + bw / 2);

  const band = d3
    .area<number>()
    .x((_, i) => sampleX(i * 3))
    .y0(sampleTreeY(0))
    .y1((d) => sampleTreeY(d * 0.62))
    .curve(d3.curveStepAfter);

  const tracks = [
    { label: "ethnicity", y: 117, base: ethnicityColors[4], marks: ethnicityMarks.map(([start, c]) => ({ start, n: 1, fill: ethnicityColors[c] })) },
    { label: "race", y: 143.7, base: raceColors[5], marks: raceMarks.map(([start, n, c]) => ({ start, n, fill: raceColors[c] })) },
    {
      label: "age",
      y: 169.7,
      base: ageColors[2],
      marks: [
        ...ageOld.map(([start, n]) => ({ start, n, fill: ageColors[3] })),
        ...ageMiddle.map(([start, n]) => ({ start, n, fill: ageColors[1] })),
        ...ageYoung.map(([start, n]) => ({ start, n, fill: ageColors[0] })),
        ...ageMissing.map(([start, n]) => ({ start, n, fill: "#ffffff" })),
      ],
    },
    { label: "event", y: 195.7, base: eventColors[0], marks: eventDead.map(([start, n]) => ({ start, n, fill: eventColors[1] })) },
  ];

  return (
    <svg width={W} height={H} viewBox={`0 0 ${W} ${H}`} style={{ position: "absolute", left: 0, top: 0, display: "block" }}>
      <defs>
        <filter id="soft" filterUnits="userSpaceOnUse" x={0} y={0} width={W} height={H}>
          <feGaussianBlur stdDeviation={0.6} />
        </filter>
      </defs>
      <rect width={W} height={H} fill="#fff" />
      <g filter="url(#soft)">
        {/* sample dendrogram */}
        <path d={band(lowMerges) ?? ""} fill="#161616" />
        <g stroke="#1c1c1c" strokeWidth={1.7}>
          {lowMerges.map((h, i) => (
            <line key={i} x1={sampleX(i * 3 + 1)} x2={sampleX(i * 3 + 1)} y1={sampleTreeY(0)} y2={sampleTreeY(h)} />
          ))}
        </g>
        <g fill="none" stroke="#2a2a2a" strokeWidth={1.3}>
          {lowArcs.map(([a, b, h], i) => (
            <path key={i} d={`M${sampleX(a)},${sampleTreeY(6)}V${sampleTreeY(h)}H${sampleX(b)}V${sampleTreeY(6)}`} />
          ))}
        </g>
        <g fill="none" stroke="#333" strokeWidth={1.8}>
          {topMerges.map((m, i) => (
            <path key={i} d={`M${m.a.at},${sampleTreeY(m.a.h)}V${sampleTreeY(m.h)}H${m.b.at}V${sampleTreeY(m.b.h)}`} />
          ))}
        </g>
        <line x1={172} x2={1204} y1={116.6} y2={116.6} stroke="#a8a8a8" strokeWidth={1.6} />

        {/* probe dendrogram */}
        <g fill="none" stroke="#4a4a4a" strokeWidth={1.6}>
          {sideMerges.map((m, i) => (
            <path key={i} d={`M${probeTreeX(m.a.h)},${m.a.at}H${probeTreeX(m.h)}V${m.b.at}H${probeTreeX(m.b.h)}`} />
          ))}
        </g>

        {/* sample annotation */}
        {tracks.map((t) => (
          <g key={t.label}>
            <rect x={sampleX(0)} y={t.y} width={sampleX(sampleCount) - sampleX(0)} height={21.6} fill={t.base} />
            <Track y={t.y} h={21.6} marks={t.marks} />
            <text x={1212} y={t.y + 19} fontFamily={sans} fontWeight="bold" fontSize={21.3} fill="#111">
              {t.label}
            </text>
          </g>
        ))}

        {/* probe annotation */}
        {probes.map((p, i) => (
          <g key={p}>
            <rect x={117.7} y={probeY(p)} width={21.4} height={bw + 0.5} fill={islandColors[probeIsland[i]]} />
            <rect x={143.7} y={probeY(p)} width={21.4} height={bw + 0.5} fill={groupColors[probeGroup[i]]} />
          </g>
        ))}
        <text transform="translate(146,1710) rotate(90)" fontFamily={sans} fontWeight="bold" fontSize={21.3} fill="#111">
          UCSC_RefGene_Group
        </text>
        <text transform="translate(119,1710) rotate(90)" fontFamily={sans} fontWeight="bold" fontSize={21.3} fill="#111">
          Relation_to_UCSC_CpG_Island
        </text>

        {/* heatmap */}
        {probes.map((p, row) => (
          <g key={p}>
            {probeRuns[row].map(([start, v], i, runs) => {
              const end = i + 1 < runs.length ? runs[i + 1][0] : sampleCount;
              return (
                <rect
                  key={start}
                  x={sampleX(start)}
                  y={probeY(p)}
                  width={sampleX(end) - sampleX(start) + 0.4}
                  height={bw + 0.5}
                  fill={heat(v / 100)}
                />
              );
            })}
            <text x={1211.5} y={probeY(p)! + bw / 2 + 12} fontFamily={sans} fontSize={33.8} fill="#4f4f4f">
              {p}
            </text>
          </g>
        ))}

        {/* sample names are too small to read, they come out as a grey comb */}
        <rect x={sampleX(0)} y={1708} width={sampleX(sampleCount) - sampleX(0)} height={21} fill="#dcdcdc" />
        {d3.range(sampleCount).map((r) => (
          <line key={r} x1={sampleX(r)} x2={sampleX(r)} y1={1708} y2={1729} stroke="#b0b0b0" strokeWidth={0.9} strokeDasharray="2 1.5" />
        ))}

        {/* colour key */}
        {d3.range(100).map((i) => {
          const v0 = 0.01 + (i * 0.955) / 100;
          const v1 = 0.01 + ((i + 1) * 0.955) / 100;
          return <rect key={i} x={1439} y={barY(v1)} width={22} height={barY(v0) - barY(v1) + 0.5} fill={heat(v0)} />;
        })}
        {colorTicks.map((t) => (
          <text key={t} x={1471} y={barY(t) + 7.5} fontFamily={sans} fontSize={20.5} fill="#333">
            {t.toFixed(1)}
          </text>
        ))}

        {/* legends */}
        <Legend title="ethnicity" y={137.3} levels={ethnicityLevels} colors={ethnicityColors} />
        <Legend title="race" y={333.3} levels={raceLevels} colors={raceColors} />
        <Legend title="age" y={560.4} levels={ageLevels} colors={ageColors} />
        <Legend title="event" y={726.4} levels={eventLevels} colors={eventColors} />
        <Legend title="Relation_to_UCSC_CpG_Island" y={832} levels={islandLevels} colors={islandColors} />
        <Legend title="UCSC_RefGene_Group" y={998} levels={groupLevels} colors={groupColors} />
      </g>
    </svg>
  );
}
